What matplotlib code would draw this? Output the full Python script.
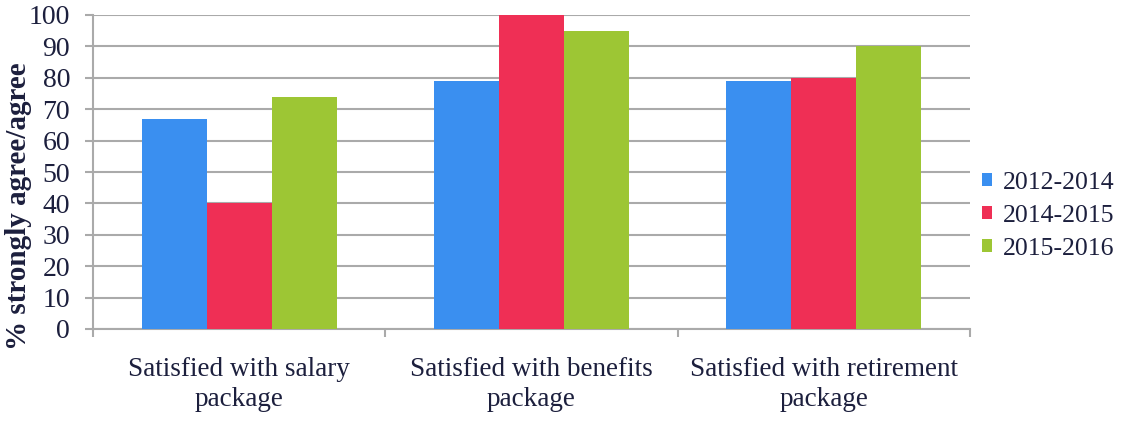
import numpy as np
from matplotlib import pyplot as plt

categories = ['Satisfied with salary\npackage',
              'Satisfied with benefits\npackage',
              'Satisfied with retirement\npackage']
series_names = ['2012-2014', '2014-2015', '2015-2016']
values_2012 = [67, 79, 79]
values_2014 = [40, 100, 80]
values_2015 = [74, 95, 90]
colors = ['#3a8ff0', '#ef2f55', '#9dc634']

plt.rcParams['font.family'] = ['Liberation Serif', 'DejaVu Serif']
text_color = '#1c1f3d'
grid_color = '#aaaaaa'

fig = plt.figure(figsize=(11.26, 4.22), dpi=100)
ax = fig.add_axes([93 / 1126, 1 - 329 / 422, (970 - 93) / 1126, (329 - 15) / 422])

x = np.arange(len(categories))
width = 1 / 4.5
for i, vals in enumerate([values_2012, values_2014, values_2015]):
    ax.bar(x + (i - 1) * width, vals, width, color=colors[i],
           label=series_names[i], zorder=3)

ax.set_xlim(-0.5, 2.5)
ax.set_ylim(0, 100)
ax.set_yticks(np.arange(0, 101, 10))
ax.yaxis.grid(True, color=grid_color, linewidth=1.5, zorder=0)

# category separators as major ticks, names on minor ticks
ax.set_xticks([-0.5, 0.5, 1.5, 2.5])
ax.set_xticklabels([])
ax.set_xticks(x, minor=True)
ax.set_xticklabels(categories, minor=True, fontsize=19.5, color=text_color,
                   linespacing=1.25)
ax.tick_params(axis='x', which='minor', length=0, pad=20)
ax.tick_params(axis='x', which='major', length=5.5, color=grid_color, width=1.5)
ax.tick_params(axis='y', length=5.5, color=grid_color, width=1.5,
               labelsize=20, labelcolor=text_color, pad=11)

for side in ['top', 'right']:
    ax.spines[side].set_visible(False)
for side in ['left', 'bottom']:
    ax.spines[side].set_color(grid_color)
    ax.spines[side].set_linewidth(1.5)

ax.set_ylabel('% strongly agree/agree', fontsize=21, fontweight='bold',
              color=text_color)
ax.yaxis.set_label_coords(-0.07, 0.39)

leg = ax.legend(loc='center left', bbox_to_anchor=(1.0137, 0.36), frameon=False,
                fontsize=18.5, handlelength=0.4, handleheight=0.4,
                handletextpad=0.4, labelspacing=0.42, borderaxespad=0,
                borderpad=0)
for t in leg.get_texts():
    t.set_color(text_color)

plt.savefig('out.png', dpi=100)
